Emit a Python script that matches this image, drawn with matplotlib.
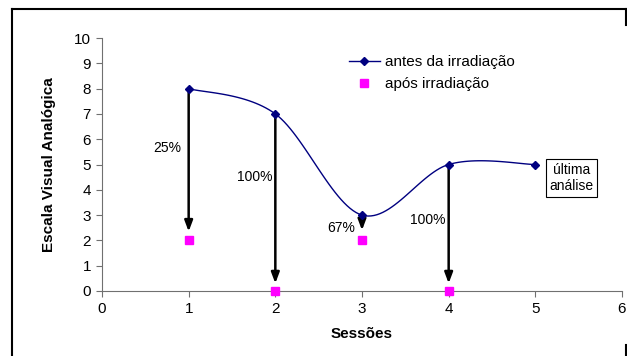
import numpy as np
import matplotlib.pyplot as plt
from matplotlib.lines import Line2D

plt.rcParams['font.family'] = ['Liberation Sans', 'DejaVu Sans']

sessoes = [1, 2, 3, 4, 5]
antes = [8, 7, 3, 5, 5]
sess_apos = [1, 2, 3, 4]
apos = [2, 0, 2, 0]
percent = ['25%', '100%', '67%', '100%']
arrow_end = [2.35, 0.3, 2.4, 0.3]
label_pos = [(0.75, 5.65), (1.76, 4.5), (2.76, 2.5), (3.76, 2.8)]


def excel_smooth(x, y, sx=86.7, sy=25.3, n=30):
    # bezier smoothing similar to excel's "smoothed line", done in pixel space
    p = np.column_stack([np.asarray(x, float) * sx, np.asarray(y, float) * sy])
    out = [p[0]]
    for i in range(len(p) - 1):
        p0 = p[i - 1] if i > 0 else p[i]
        p3 = p[i + 2] if i + 2 < len(p) else p[i + 1]
        c1 = p[i] + (p[i + 1] - p0) / 6
        c2 = p[i + 1] - (p3 - p[i]) / 6
        t = np.linspace(0, 1, n)[1:, None]
        seg = ((1 - t) ** 3 * p[i] + 3 * (1 - t) ** 2 * t * c1
               + 3 * (1 - t) * t ** 2 * c2 + t ** 3 * p[i + 1])
        out.extend(seg)
    out = np.array(out)
    return out[:, 0] / sx, out[:, 1] / sy


fig = plt.figure(figsize=(6.27, 3.56), dpi=100)
ax = fig.add_axes([102 / 627, 1 - 291 / 356, 520 / 627, 253 / 356])

sx, sy = excel_smooth(sessoes, antes)
ax.plot(sx, sy, color='#000080', lw=1, zorder=3)
ax.plot(sessoes, antes, 'D', color='#000080', ms=4, zorder=4)
ax.plot(sess_apos, apos, 's', color='#FF00FF', ms=6, zorder=4, clip_on=False)

for xs, y0, y1 in zip(sess_apos, [antes[i - 1] for i in sess_apos], arrow_end):
    ax.annotate('', xy=(xs, y1), xytext=(xs, y0),
                arrowprops=dict(arrowstyle='-|>,head_width=0.3,head_length=0.8',
                                color='black', lw=1.8,
                                mutation_scale=8, shrinkA=0, shrinkB=0),
                zorder=2)
for txt, (tx, ty) in zip(percent, label_pos):
    ax.text(tx, ty, txt, ha='center', va='center', fontsize=10)

ax.text(5.42, 4.47, 'última\nanálise', ha='center', va='center', fontsize=10,
        linespacing=1.25,
        bbox=dict(boxstyle='square,pad=0.25', fc='white', ec='black', lw=0.8))

ax.set_xlim(0, 6)
ax.set_ylim(0, 10)
ax.set_xticks(range(0, 7))
ax.set_yticks(range(0, 11))
for s in ['top', 'right']:
    ax.spines[s].set_visible(False)
for s in ['left', 'bottom']:
    ax.spines[s].set_color('#707070')
ax.tick_params(direction='out', length=4, color='#707070', labelsize=11, pad=4)
ax.set_xlabel('Sessões', fontweight='bold', fontsize=11)
ax.xaxis.set_label_coords(0.5, -0.142)
ax.set_ylabel('Escala Visual Analógica', fontweight='bold', fontsize=11)
ax.yaxis.set_label_coords(-0.088, 0.5)

handles = [Line2D([], [], color='#000080', marker='D', ms=4, lw=1),
           Line2D([], [], color='#FF00FF', marker='s', ms=6, lw=0)]
fig.legend(handles, ['antes da irradiação', 'após irradiação'],
           loc='upper left', bbox_to_anchor=(349 / 627, 1 - 55 / 356),
           frameon=False, fontsize=11, handlelength=2.0, handletextpad=0.35,
           labelspacing=0.55, borderpad=0, borderaxespad=0)

# outer frame
fx0, fx1, fy0 = 12 / 627, 626 / 627, 1 - 9 / 356
fig.add_artist(Line2D([fx0, fx1], [fy0, fy0], color='black', lw=1.5))
fig.add_artist(Line2D([fx0, fx0], [fy0, 0], color='black', lw=1.5))
fig.add_artist(Line2D([fx1, fx1], [fy0, 1 - 25 / 356], color='black', lw=1.5))
fig.add_artist(Line2D([fx1, fx1], [1 - 345 / 356, 0], color='black', lw=1.5))

fig.savefig('out.png', dpi=100)
